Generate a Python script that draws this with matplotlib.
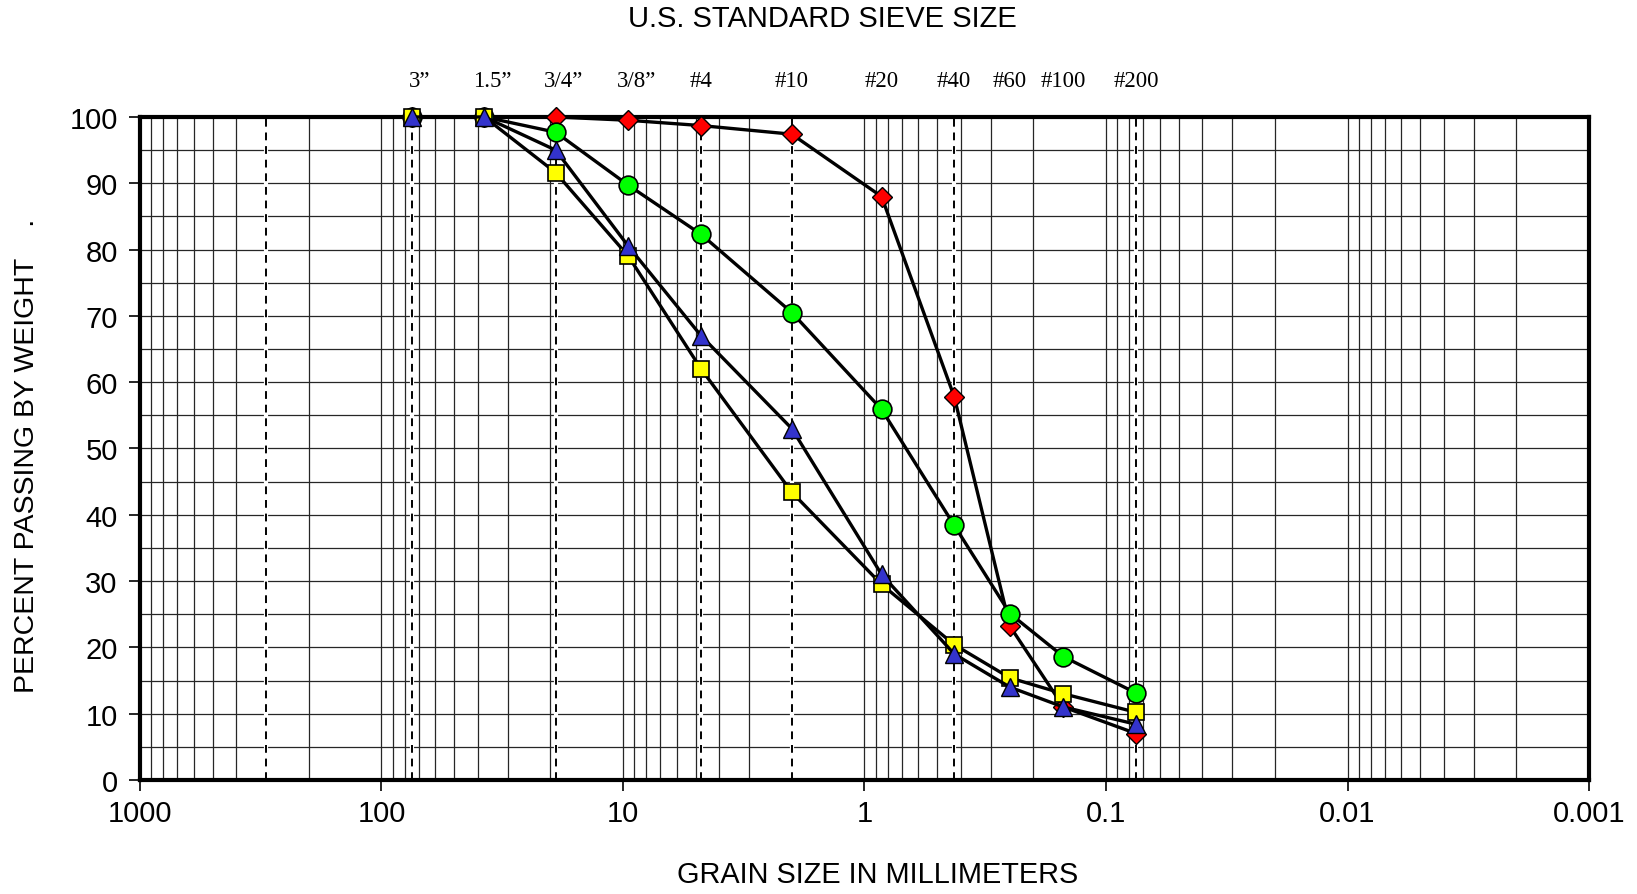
import numpy as np
import matplotlib.pyplot as plt
from matplotlib.ticker import FixedLocator, NullFormatter

# sieve openings [mm] and labels
sieve_mm = [75, 37.5, 19, 9.5, 4.75, 2.0, 0.85, 0.425, 0.25, 0.15, 0.075]
sieve_names = ["3\u201d", "1.5\u201d", "3/4\u201d", "3/8\u201d", "#4", "#10",
               "#20", "#40", "#60", "#100", "#200"]
dashed_mm = [300, 75, 19, 4.75, 2.0, 0.425, 0.075]

# percent passing for each sample
red_pass = [100, 100, 100, 99.5, 98.7, 97.4, 88.0, 57.8, 23.2, 11.0, 7.0]
green_pass = [100, 100, 97.7, 89.7, 82.3, 70.5, 55.9, 38.4, 25.1, 18.6, 13.1]
yellow_pass = [100, 100, 91.6, 79.0, 62.0, 43.4, 29.5, 20.4, 15.4, 13.0, 10.2]
blue_pass = [100, 100, 95.0, 80.5, 67.0, 53.0, 31.0, 19.0, 14.0, 11.0, 8.4]

xtick_vals = [1000, 100, 10, 1, 0.1, 0.01, 0.001]
xtick_labels = ["1000", "100", "10", "1", "0.1", "0.01", "0.001"]

plt.rcParams['font.family'] = ['Liberation Sans', 'DejaVu Sans']

fig = plt.figure(figsize=(16.37, 8.95), dpi=100)
ax = fig.add_axes([0.0855, 0.1274, 0.8852, 0.7408])

ax.set_xscale("log")
ax.set_xlim(1000, 0.001)
ax.set_ylim(0, 100)

# grid: minor verticals 2..9 of each decade, horizontals every 5
grid_col = "#262626"
minor_x = [m * 10.0**e for e in range(-3, 3) for m in range(2, 10)]
for xv in minor_x + xtick_vals:
  ax.axvline(xv, color=grid_col, lw=0.9, zorder=1)
for yv in np.arange(5, 100, 5):
  ax.axhline(yv, color=grid_col, lw=0.9, zorder=1)
for xv in dashed_mm:
  ax.axvline(xv, color="white", lw=3, zorder=1.5)
  ax.axvline(xv, color="black", lw=1.4, ls=(0, (4, 3)), zorder=2)

style = dict(color="black", lw=2.4, markeredgecolor="black", clip_on=False)
ax.plot(sieve_mm, red_pass, "-D", markersize=10.5, markerfacecolor="#ff0000",
        markeredgewidth=1, zorder=4, **style)
ax.plot(sieve_mm, green_pass, "-o", markersize=13.5, markerfacecolor="#00ff00",
        markeredgewidth=1.2, zorder=5, **style)
ax.plot(sieve_mm, yellow_pass, "-s", markersize=12, markerfacecolor="#ffff00",
        markeredgewidth=1.2, zorder=6, **style)
ax.plot(sieve_mm, blue_pass, "-^", markersize=13.5, markerfacecolor="#3333cc",
        markeredgewidth=1, zorder=7, **style)

ax.xaxis.set_major_locator(FixedLocator(xtick_vals))
ax.set_xticklabels(xtick_labels)
ax.xaxis.set_minor_formatter(NullFormatter())
ax.tick_params(axis="x", which="minor", length=0)
ax.set_yticks(range(0, 101, 10))
ax.tick_params(axis="both", which="major", direction="out", length=8, width=1.2,
               labelsize=21)
ax.tick_params(axis="y", pad=8)
ax.tick_params(axis="x", pad=6)

for sp in ax.spines.values():
  sp.set_linewidth(3)
  sp.set_zorder(3)

fig.text(0.5364, 0.022, "GRAIN SIZE IN MILLIMETERS", fontsize=20.8,
         ha="center", va="center")
fig.text(0.5025, 0.979, "U.S. STANDARD SIEVE SIZE", fontsize=21,
         ha="center", va="center")
fig.text(0.0165, 0.491, "PERCENT PASSING BY WEIGHT    .", fontsize=20.5,
         rotation=90, ha="center", va="center")

trans = ax.get_xaxis_transform()
for xv, name in zip(sieve_mm, sieve_names):
  dx = 6 if "\u201d" in name else 0
  ax.annotate(name, (xv, 1.055), xycoords=trans, xytext=(dx, 0),
              textcoords="offset points", ha="center", va="center",
              fontsize=16.5, family=['Liberation Serif', 'DejaVu Serif'])

fig.savefig("out.png", dpi=100)
